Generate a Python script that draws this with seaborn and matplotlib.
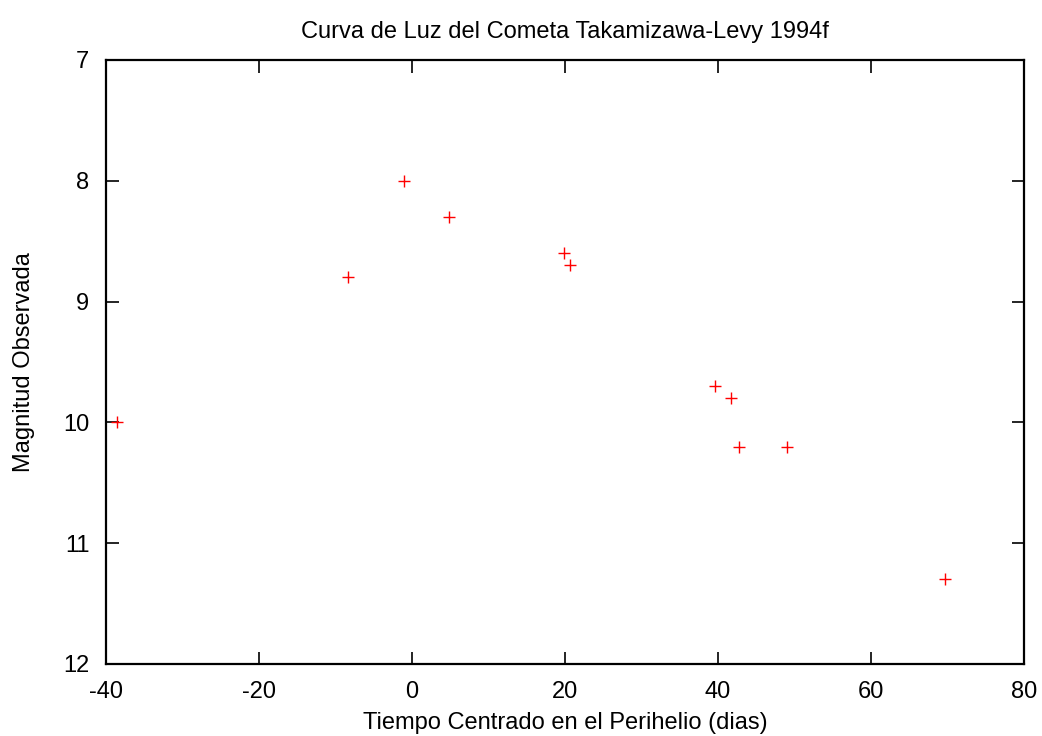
import matplotlib
matplotlib.use("Agg")
import matplotlib.pyplot as plt
import seaborn as sns
import pandas as pd

days = [-38.6, -8.4, -1.1, 4.8, 19.9, 20.7, 39.6, 41.7, 42.8, 49.0, 69.7]
mags = [10.0, 8.8, 8.0, 8.3, 8.6, 8.7, 9.7, 9.8, 10.2, 10.2, 11.3]
xticks = [-40, -20, 0, 20, 40, 60, 80]
yticks = [7, 8, 9, 10, 11, 12]

df = pd.DataFrame({"t": days, "m": mags})

sns.set_theme(style="ticks")
plt.rcParams['font.family'] = ['Liberation Sans', 'DejaVu Sans']
plt.rcParams['axes.unicode_minus'] = False
plt.rcParams['text.color'] = 'black'
plt.rcParams['axes.labelcolor'] = 'black'

fig = plt.figure(figsize=(10.42, 7.36), dpi=100)
ax = fig.add_axes([106/1042, 1 - 664/736, (1024-106)/1042, (664-60)/736])

sns.scatterplot(data=df, x="t", y="m", ax=ax, marker="+", color="red",
                s=70, linewidth=1.0, legend=False)

ax.set_xlim(-40, 80)
ax.set_ylim(12, 7)
ax.set_xticks(xticks)
ax.set_yticks(yticks)
ax.tick_params(direction="in", length=9, width=1.2, top=True, right=True,
               labelsize=17, colors="black")
ax.tick_params(axis="y", pad=12)
ax.tick_params(axis="x", pad=12)
for sp in ax.spines.values():
    sp.set_visible(True)
    sp.set_linewidth(1.6)
    sp.set_color("black")

ax.set_xlabel("Tiempo Centrado en el Perihelio (dias)", fontsize=17, labelpad=7, color="black")
ax.set_ylabel("Magnitud Observada", fontsize=17, labelpad=20, color="black")
ax.set_title("Curva de Luz del Cometa Takamizawa-Levy 1994f", fontsize=17, pad=16, color="black")

fig.savefig("out.png", dpi=100, facecolor="white")
